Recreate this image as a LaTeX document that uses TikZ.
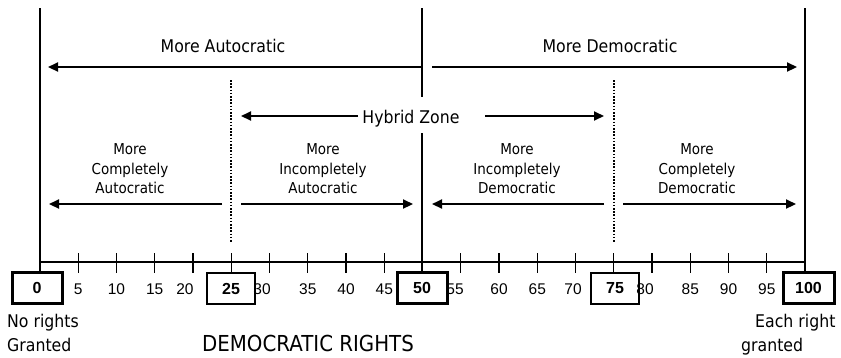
\documentclass[tikz,border=0pt]{standalone}
\usepackage{fontspec}
\setmainfont{DejaVu Sans}[FakeStretch=0.9]
\newfontfamily\numfont{Liberation Sans}
\usetikzlibrary{arrows.meta}
\begin{document}
\begin{tikzpicture}[x=1pt,y=-1pt,
  vline/.style={line width=1.3pt},
  arr/.style={line width=2.2pt,-{Triangle[length=10pt,width=9pt]}},
  dots/.style={line width=2.6pt,dash pattern=on 1.6pt off 1.6pt},
  biglbl/.style={font=\fontsize{17.5}{20}\selectfont,inner sep=0pt},
  smalllbl/.style={font=\fontsize{15}{19.5}\selectfont,align=center,inner sep=0pt},
  numlbl/.style={font=\numfont\fontsize{15.5}{18}\selectfont,inner sep=0pt},
  thickbox/.style={draw,line width=3pt,minimum height=31pt,inner sep=0pt,font=\numfont\bfseries\fontsize{16}{18}\selectfont},
  thinbox/.style={draw,line width=1.3pt,minimum height=31pt,inner sep=0pt,font=\numfont\bfseries\fontsize{16}{18}\selectfont}]
\useasboundingbox (0,0) rectangle (841,357);

% boxes
\node[thickbox,minimum width=50pt] (b0) at (37,287.5) {0};
\node[thinbox,minimum width=48pt] (b25) at (231,288.5) {25};
\node[thickbox,minimum width=50pt] (b50) at (422,287.5) {50};
\node[thinbox,minimum width=48pt] (b75) at (615,288.5) {75};
\node[thickbox,minimum width=51pt] (b100) at (808.5,287.5) {100};

% top coordinates
\coordinate (t0) at (40,8);
\coordinate (t50) at (422,8);
\coordinate (t100) at (805,8);
\coordinate (a0) at (40,262);
\coordinate (a100) at (805,262);

% Hybrid zone label
\node[biglbl,anchor=base] (hyb) at (411,123) {Hybrid Zone};
\coordinate (h50a) at (422,97);
\coordinate (h50b) at (422,133);

% vertical lines
\draw[vline] (t0) -- (t0 |- b0.north);
\draw[vline] (t100) -- (t100 |- b100.north);
\draw[vline] (t50) -- (h50a);
\draw[vline] (h50b) -- (b50.north);

% axis
\draw[vline] (a0) -- (a100);

% ticks
\foreach \v in {5,10,...,95}{
  \ifnum\v=50\relax\else
  \draw[vline] ({40+7.65*\v},253) -- ({40+7.65*\v},273);
  \fi
}

% dotted lines
\coordinate (d25t) at (231,80);
\coordinate (d25b) at (231,243);
\coordinate (d75t) at (614,80);
\coordinate (d75b) at (614,243);
\draw[dots] (d25t) -- (d25b);
\draw[dots] (d75t) -- (d75b);

% tick numbers
\foreach \v/\x in {5/78.25,10/116.5,15/154.75,20/185,30/262,35/307.75,40/346,45/384.25,
                   55/455,60/499,65/537.25,70/573,80/645,85/690.25,90/728.5,95/766.75}{
  \node[numlbl] (n\v) at (\x,289) {\v};
}

% top labels and arrows
\node[biglbl,anchor=base] (ma) at (223,52) {More Autocratic};
\node[biglbl,anchor=base] (md) at (610,52) {More Democratic};
\coordinate (maS) at (422,67);
\coordinate (maE) at (48,67);
\coordinate (mdS) at (432,67);
\coordinate (mdE) at (797,67);
\draw[arr] (maS) -- (maE);
\draw[arr] (mdS) -- (mdE);

% hybrid arrows
\coordinate (hL) at (241,116);
\coordinate (hRs) at (485,116);
\coordinate (hR) at (604,116);
\draw[arr,line width=2pt] (hyb.west |- hL) ++(-4,0) coordinate (hLs) -- (hL);
\draw[arr,line width=2pt] (hRs) -- (hR);

% lower labels
\node[smalllbl] (mca) at (130,169) {More\\Completely\\Autocratic};
\node[smalllbl] (mia) at (323,169) {More\\Incompletely\\Autocratic};
\node[smalllbl] (mid) at (517,169) {More\\Incompletely\\Democratic};
\node[smalllbl] (mcd) at (697,169) {More\\Completely\\Democratic};

% lower arrows
\coordinate (l1s) at (222,204); \coordinate (l1e) at (49,204);
\coordinate (l2s) at (241,204); \coordinate (l2e) at (413,204);
\coordinate (l3s) at (604,204); \coordinate (l3e) at (432,204);
\coordinate (l4s) at (623,204); \coordinate (l4e) at (796,204);
\draw[arr] (l1s) -- (l1e);
\draw[arr] (l2s) -- (l2e);
\draw[arr] (l3s) -- (l3e);
\draw[arr] (l4s) -- (l4e);

% bottom texts
\node[biglbl,anchor=base west] (nr1) at (7,327) {No rights};
\node[biglbl,anchor=base west] (nr2) at (7,351) {Granted};
\node[font=\fontsize{22}{24}\selectfont,inner sep=0pt,anchor=base] (dr) at (308,351) {DEMOCRATIC RIGHTS};
\node[biglbl,anchor=base west] (er1) at (755,327) {Each right};
\node[biglbl,anchor=base west] (er2) at (741,351) {granted};
\end{tikzpicture}
\end{document}
